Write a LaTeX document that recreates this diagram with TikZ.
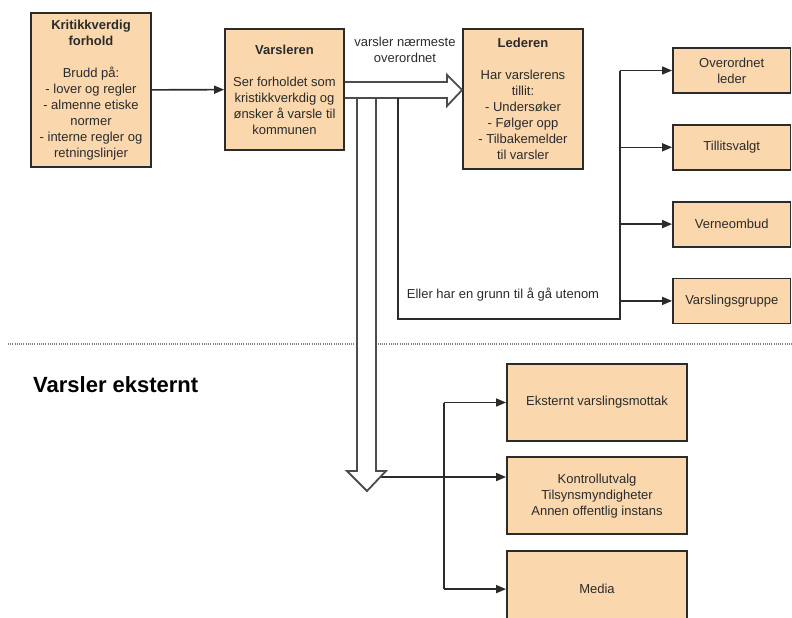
\documentclass[tikz,border=0pt]{standalone}
\usepackage{fontspec}
\setmainfont{Liberation Sans}
\usetikzlibrary{positioning,arrows.meta}
\definecolor{boxfill}{HTML}{FAD7AC}
\definecolor{ink}{HTML}{2B2B2B}

\begin{document}
\begin{tikzpicture}[x=1pt, y=-1pt,
  box/.style={draw=ink, fill=boxfill, line width=1.8pt, align=center, inner sep=2pt, text=ink, font=\fontsize{13}{16}\selectfont},
  arrow/.style={-{Triangle[length=10pt,width=8pt]}, line width=1.6pt, draw=ink},
  link/.style={line width=1.6pt, draw=ink},
  hollow/.style={draw=black!70, line width=1.8pt, line join=miter},
  txt/.style={align=center, text=ink, font=\fontsize{13}{16}\selectfont}
]
\useasboundingbox (0,0) rectangle (792,618);
\clip (0,0) rectangle (792,618);

\node[box, minimum width=120pt, minimum height=154pt] (krit) at (91,90)
  {\textbf{Kritikkverdig}\\\textbf{forhold}\\[16pt]Brudd på:\\- lover og regler\\- almenne etiske\\normer\\- interne regler og\\retningslinjer};
\node[box, minimum width=119pt, minimum height=121pt] (varsleren) at (284.5,89.5)
  {\textbf{Varsleren}\\[16pt]Ser forholdet som\\kristikkverkdig og\\ønsker å varsle til\\kommunen};
\node[box, minimum width=120pt, minimum height=140pt] (lederen) at (523,99)
  {\textbf{Lederen}\\[16pt]Har varslerens\\tillit:\\- Undersøker\\- Følger opp\\- Tilbakemelder\\til varsler};
\node[txt] (naermest) at (405,50) {varsler nærmeste\\overordnet};

\node[box, minimum width=117.5pt, minimum height=45pt] (over) at (731.75,70.5) {Overordnet\\leder};
\node[box, minimum width=117.5pt, minimum height=45pt, below=30pt of over] (tillit) {Tillitsvalgt};
\node[box, minimum width=117.5pt, minimum height=45pt, below=30pt of tillit] (verne) {Verneombud};
\node[box, minimum width=117.5pt, minimum height=45pt, below=30pt of verne] (gruppe) {Varslingsgruppe};
\node[txt] (utenom) at (503,295) {Eller har en grunn til å gå utenom};

\node[anchor=west, inner sep=0pt, text=black, font=\bfseries\fontsize{22}{26}\selectfont] (ekst) at (33,385) {Varsler eksternt};

\node[box, minimum width=180pt, minimum height=77pt] (ekstern) at (597,402.5) {Eksternt varslingsmottak};
\node[box, minimum width=180pt, minimum height=77pt, below=14.5pt of ekstern] (kontroll) {Kontrollutvalg\\Tilsynsmyndigheter\\Annen offentlig instans};
\node[box, minimum width=180pt, minimum height=77pt, below=14.5pt of kontroll] (media) {Media};

\draw[arrow] (krit) -- (varsleren);

\draw[hollow] (varsleren.east |- 0,82) -- (447,82) -- (447,75) -- (lederen.west |- 0,90) -- (447,106) -- (447,98) -- (varsleren.east |- 0,98);

\coordinate (bus) at (620,319);
\draw[link] (398,98) |- (bus) -- (bus |- over);
\foreach \n in {over,tillit,verne,gruppe}
  \draw[arrow] (bus |- \n) -- (\n);

\draw[black!50, line width=1.2pt, dash pattern=on 1pt off 1.2pt] (8,344) -- (792,344);

\coordinate (ebus) at (444,403);
\coordinate (fork) at (367,477);
\draw[link] (ebus |- ekstern) -- (ebus |- media);
\foreach \n in {ekstern,media}
  \draw[arrow] (ebus |- \n) -- (\n);
\draw[arrow] (fork) -- (fork -| kontroll.west);

\draw[hollow, fill=white] (357,98) -- (376,98) -- (376,471) -- (386,471) -- (367,491) -- (347,471) -- (357,471) -- cycle;
\end{tikzpicture}
\end{document}
